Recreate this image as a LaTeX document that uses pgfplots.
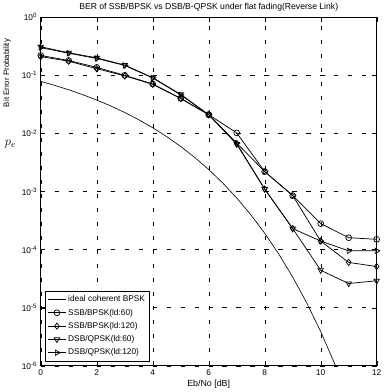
\documentclass[border=0pt]{standalone}
\usepackage{fontspec}
\setmainfont{Liberation Sans}
\usepackage{pgfplots}
\pgfplotsset{compat=1.18}
\begin{document}
\begin{tikzpicture}
\begin{axis}[
  scale only axis, width=322bp, height=334bp,
  xmin=0, xmax=12, ymode=log, log basis y=10, ymin=1e-6, ymax=1,
  xtick={0,2,4,6,8,10,12},
  ytick={1e-6,1e-5,1e-4,1e-3,1e-2,1e-1,1},
  yticklabel={10\textsuperscript{\pgfmathparse{int(round(\tick))}\pgfmathresult}},
  xticklabel={\pgfmathprintnumber[assume math mode=true]{\tick}},
  tick label style={font=\fontsize{8}{9}\selectfont},
  grid=both,
  major grid style={black, line width=0.35pt, dash pattern=on 4bp off 9.4bp},
  minor grid style={black, line width=0.35pt, dash pattern=on 4bp off 9.4bp},
  tick style={black},
  axis line style={black, line width=0.6pt},
  title={BER of SSB/BPSK vs DSB/B-QPSK under flat fading(Reverse Link)},
  title style={font=\fontsize{8.3}{10}\selectfont, yshift=-4bp},
  xlabel={Eb/No [dB]},
  xlabel style={font=\fontsize{8.5}{10}\selectfont, yshift=2bp},
  ylabel={Bit Error Probability},
  ylabel style={font=\fontsize{7.6}{9}\selectfont, at={(axis description cs:-0.1,0.84)}, anchor=center},
  legend style={at={(axis description cs:0.012,0.012)}, anchor=south west,
    font=\fontsize{8}{9.5}\selectfont, draw=black, line width=0.6pt,
    row sep=1.5bp, inner sep=2.5bp},
  legend cell align=left,
  every axis plot/.append style={black, line width=0.7pt},
  clip mode=individual,
]
\addplot[no marks, line width=0.6pt] coordinates {
(0,0.0786) (0.5,0.0671) (1,0.0563) (1.5,0.0464) (2,0.0375) (2.5,0.0297)
(3,0.0229) (3.5,0.0172) (4,0.0125) (4.5,0.0088) (5,0.00595) (5.5,0.00386)
(6,0.00239) (6.5,0.0014) (7,7.73e-4) (7.5,3.99e-4) (8,1.91e-4) (8.5,8.4e-5)
(9,3.36e-5) (9.5,1.21e-5) (10,3.87e-6) (10.5,1.08e-6) (11,2.6e-7)};
\addlegendentry{ideal coherent BPSK}
\addplot[mark=o, mark options={solid, fill=white, scale=1.4}] coordinates {
(0,0.22) (1,0.18) (2,0.137) (3,0.1) (4,0.071) (5,0.04) (6,0.021) (7,0.0102)
(8,2.2e-3) (9,8.5e-4) (10,2.8e-4) (11,1.6e-4) (12,1.5e-4)};
\addlegendentry{SSB/BPSK(ld:60)}
\addplot[mark=diamond, mark options={solid, fill=white, scale=1.5}] coordinates {
(0,0.21) (1,0.175) (2,0.13) (3,0.098) (4,0.07) (5,0.04) (6,0.021) (7,6.7e-3)
(8,1.1e-3) (9,2.3e-4) (10,1.4e-4) (11,6.0e-5) (12,5.1e-5)};
\addlegendentry{SSB/BPSK(ld:120)}
\addplot[mark=triangle, mark options={solid, fill=white, scale=1.5, rotate=180}] coordinates {
(0,0.31) (1,0.245) (2,0.2) (3,0.15) (4,0.091) (5,0.047) (6,0.021) (7,6.5e-3)
(8,1.1e-3) (9,2.3e-4) (10,4.4e-5) (11,2.6e-5) (12,2.9e-5)};
\addlegendentry{DSB/QPSK(ld:60)}
\addplot[mark=triangle, mark options={solid, fill=white, scale=1.5, rotate=-90}] coordinates {
(0,0.30) (1,0.24) (2,0.195) (3,0.148) (4,0.09) (5,0.046) (6,0.021) (7,6.8e-3)
(8,2.2e-3) (9,8.5e-4) (10,1.4e-4) (11,9.5e-5) (12,9.5e-5)};
\addlegendentry{DSB/QPSK(ld:120)}
\node[font=\fontsize{13}{14}\selectfont] at (axis description cs:-0.09,0.635) {$p_e$};
\end{axis}
\end{tikzpicture}
\end{document}
